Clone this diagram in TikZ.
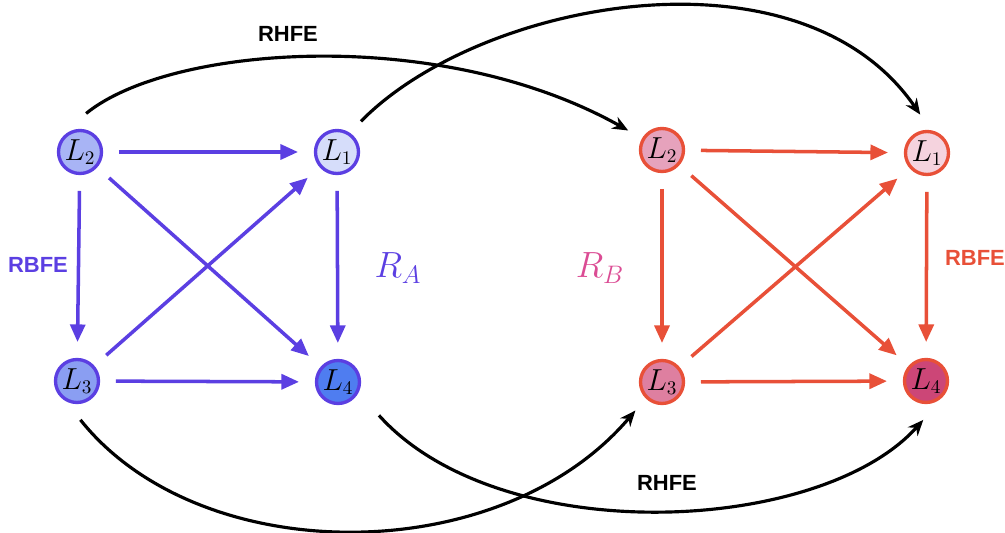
\documentclass[tikz,border=0pt]{standalone}
\usepackage{fontspec}
\usepackage{amsmath}
\usetikzlibrary{arrows.meta}
\newfontfamily\labelfont{Liberation Sans}

\definecolor{purA}{RGB}{91,63,226}
\definecolor{redB}{RGB}{232,80,56}
\definecolor{pinkR}{RGB}{219,76,148}

\begin{document}
\begin{tikzpicture}
  [x=0.02cm,y=-0.02cm,
   lig/.style={circle,line width=1.9pt,minimum size=0.86cm,inner sep=0pt,
     outer sep=0.35cm,font=\fontsize{16}{18}\selectfont},
   ligA/.style={lig,draw=purA},
   ligB/.style={lig,draw=redB},
   edgeA/.style={line width=2pt,draw=purA,-{Triangle[length=10pt,width=8.5pt]}},
   edgeB/.style={line width=2pt,draw=redB,-{Triangle[length=10pt,width=8.5pt]}},
   rhfe/.style={line width=1.8pt,-{Stealth[length=9pt,width=7.5pt]}},
   tag/.style={font=\labelfont\bfseries\fontsize{12.5}{14}\selectfont}]
  \useasboundingbox (0,0) rectangle (1005,533);

  % receptor A
  \node[ligA,fill={rgb,255:red,168;green,180;blue,245}] (a2) at (80,152) {$L_2$};
  \node[ligA,fill={rgb,255:red,214;green,221;blue,250}] (a1) at (337,152) {$L_1$};
  \node[ligA,fill={rgb,255:red,138;green,158;blue,242}] (a3) at (77,381) {$L_3$};
  \node[ligA,fill={rgb,255:red,79;green,125;blue,240}] (a4) at (338,382) {$L_4$};

  % receptor B
  \node[ligB,fill={rgb,255:red,230;green,162;blue,188}] (b2) at (662,150) {$L_2$};
  \node[ligB,fill={rgb,255:red,245;green,211;blue,222}] (b1) at (927,153) {$L_1$};
  \node[ligB,fill={rgb,255:red,222;green,127;blue,160}] (b3) at (662,382) {$L_3$};
  \node[ligB,fill={rgb,255:red,204;green,70;blue,119}] (b4) at (926,381) {$L_4$};

  \foreach \from/\to in {a2/a1,a2/a3,a2/a4,a1/a4,a3/a1,a3/a4}
    \draw[edgeA] (\from) -- (\to);
  \foreach \from/\to in {b2/b1,b2/b3,b2/b4,b1/b4,b3/b1,b3/b4}
    \draw[edgeB] (\from) -- (\to);

  % hybrid legs
  \draw[rhfe] (a2.81) .. controls (170,45) and (440,25) .. (b2.150);
  \draw[rhfe] (a1.52) .. controls (480,0) and (800,-60) .. (b1.100);
  \draw[rhfe] (a3.-85) .. controls (200,570) and (500,570) .. (b3.-133);
  \draw[rhfe,shorten <=8pt] (a4.-36) .. controls (500,550) and (820,535) .. (b4.-94);

  \node[tag] (t1) at (288,34) {RHFE};
  \node[tag] (t2) at (667,483) {RHFE};
  \node[tag,text=purA] (t3) at (38,265) {RBFE};
  \node[tag,text=redB] (t4) at (975,258) {RBFE};
  \node[text=purA,font=\fontsize{21}{24}\selectfont] (ra) at (398,268) {$R_A$};
  \node[text=pinkR,font=\fontsize{21}{24}\selectfont] (rb) at (600,268) {$R_B$};
\end{tikzpicture}
\end{document}
